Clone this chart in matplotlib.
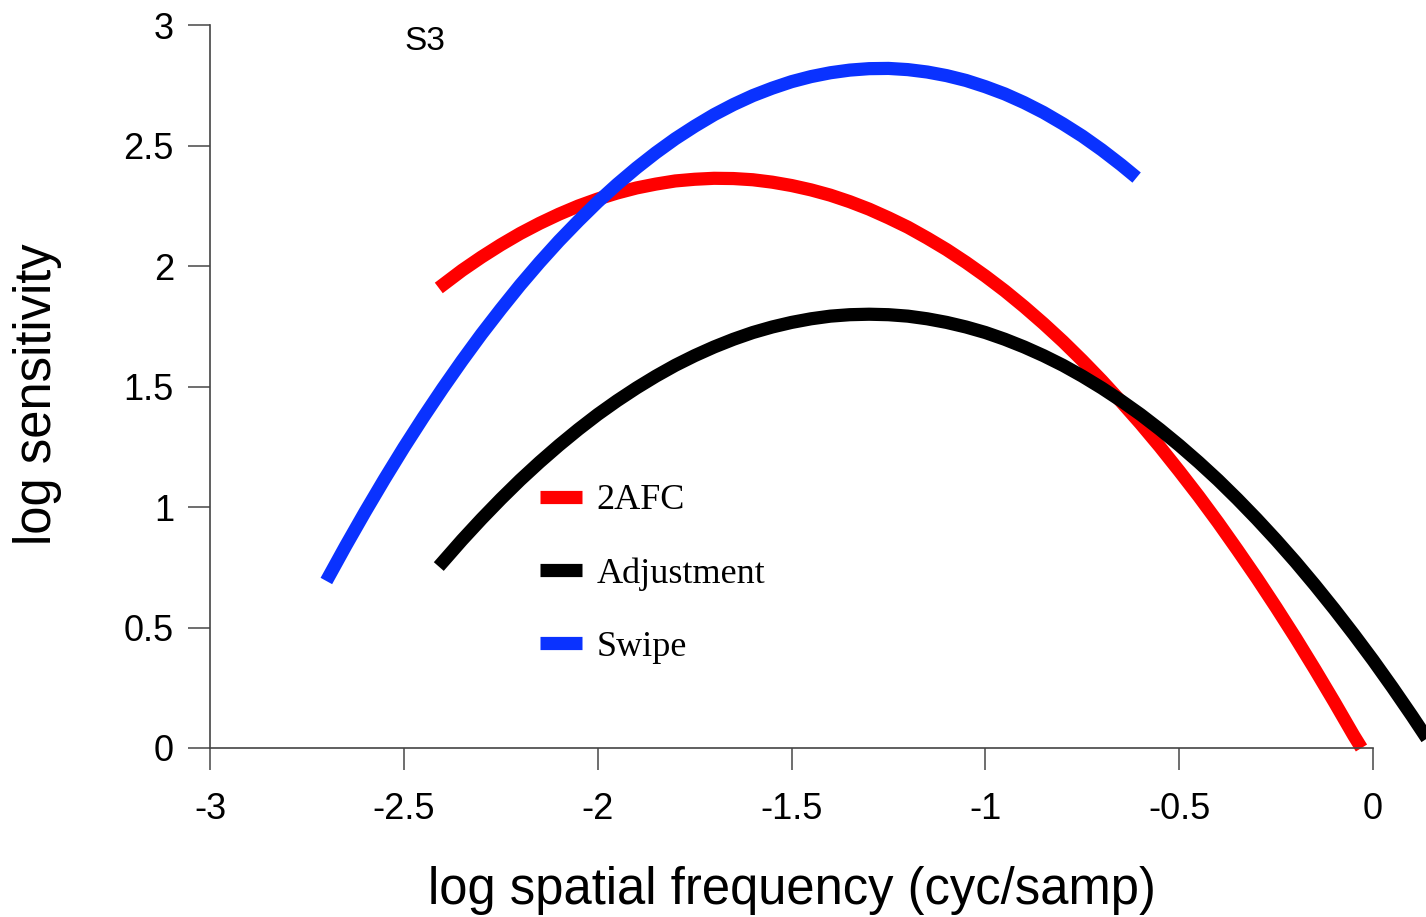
import matplotlib
matplotlib.use('Agg')
import matplotlib.pyplot as plt

# values (log10 units)
x_2afc = [-2.41, -2.35, -2.3, -2.25, -2.2, -2.15, -2.1, -2.05, -2.0, -1.95, -1.9, -1.85, -1.8,
          -1.75, -1.7, -1.65, -1.6, -1.55, -1.5, -1.45, -1.4, -1.35, -1.3, -1.25, -1.2, -1.15,
          -1.1, -1.05, -1.0, -0.95, -0.9, -0.85, -0.8, -0.75, -0.7, -0.65, -0.6, -0.55, -0.5,
          -0.45, -0.4, -0.35, -0.3, -0.25, -0.2, -0.15, -0.1, -0.05, -0.03]
y_2afc = [1.909, 1.982, 2.037, 2.088, 2.135, 2.177, 2.215, 2.249, 2.278, 2.303, 2.324, 2.340, 2.353,
          2.360, 2.364, 2.363, 2.358, 2.348, 2.334, 2.316, 2.294, 2.267, 2.236, 2.200, 2.161, 2.116,
          2.068, 2.015, 1.958, 1.897, 1.831, 1.761, 1.687, 1.608, 1.525, 1.437, 1.346, 1.250, 1.149,
          1.045, 0.936, 0.822, 0.705, 0.583, 0.457, 0.326, 0.191, 0.052, 0.0]

x_adj = [-2.41, -2.35, -2.3, -2.25, -2.2, -2.15, -2.1, -2.05, -2.0, -1.95, -1.9, -1.85, -1.8,
         -1.75, -1.7, -1.65, -1.6, -1.55, -1.5, -1.45, -1.4, -1.35, -1.3, -1.25, -1.2, -1.15,
         -1.1, -1.05, -1.0, -0.95, -0.9, -0.85, -0.8, -0.75, -0.7, -0.65, -0.6, -0.55, -0.5,
         -0.45, -0.4, -0.35, -0.3, -0.25, -0.2, -0.15, -0.1, -0.05, 0.0, 0.05, 0.1, 0.15]
y_adj = [0.753, 0.863, 0.950, 1.033, 1.112, 1.186, 1.256, 1.322, 1.384, 1.441, 1.494, 1.543, 1.588,
         1.628, 1.664, 1.696, 1.724, 1.747, 1.766, 1.781, 1.792, 1.798, 1.800, 1.798, 1.792, 1.781,
         1.766, 1.747, 1.724, 1.696, 1.664, 1.628, 1.588, 1.543, 1.494, 1.441, 1.384, 1.322, 1.256,
         1.186, 1.112, 1.033, 0.950, 0.863, 0.772, 0.676, 0.576, 0.472, 0.364, 0.251, 0.134, 0.013]

x_swipe = [-2.7, -2.65, -2.6, -2.55, -2.5, -2.45, -2.4, -2.35, -2.3, -2.25, -2.2, -2.15, -2.1,
           -2.05, -2.0, -1.95, -1.9, -1.85, -1.8, -1.75, -1.7, -1.65, -1.6, -1.55, -1.5, -1.45,
           -1.4, -1.35, -1.3, -1.25, -1.2, -1.15, -1.1, -1.05, -1.0, -0.95, -0.9, -0.85, -0.8,
           -0.75, -0.7, -0.65, -0.61]
y_swipe = [0.693, 0.839, 0.980, 1.116, 1.247, 1.372, 1.492, 1.607, 1.717, 1.821, 1.921, 2.015, 2.104,
           2.187, 2.266, 2.339, 2.407, 2.470, 2.528, 2.580, 2.628, 2.670, 2.707, 2.738, 2.765, 2.786,
           2.802, 2.813, 2.819, 2.820, 2.815, 2.805, 2.790, 2.770, 2.744, 2.714, 2.678, 2.637, 2.590,
           2.539, 2.482, 2.420, 2.367]

xticks = [-3, -2.5, -2, -1.5, -1, -0.5, 0]
xtick_labels = ['-3', '-2.5', '-2', '-1.5', '-1', '-0.5', '0']
yticks = [0, 0.5, 1, 1.5, 2, 2.5, 3]
ytick_labels = ['0', '0.5', '1', '1.5', '2', '2.5', '3']

plt.rcParams['font.family'] = ['Liberation Sans', 'DejaVu Sans']

fig = plt.figure(figsize=(14.26, 9.17), dpi=100)
ax = fig.add_axes([0.1473, 0.1843, 0.8156, 0.7884])

lw = 9.5
ax.plot(x_2afc, y_2afc, color='#ff0000', lw=lw, solid_capstyle='butt', label='2AFC', clip_on=False)
ax.plot(x_adj, y_adj, color='black', lw=lw, solid_capstyle='butt', label='Adjustment', clip_on=False)
ax.plot(x_swipe, y_swipe, color='#0a32ff', lw=lw, solid_capstyle='butt', label='Swipe', clip_on=False)

ax.set_xlim(-3, 0)
ax.set_ylim(0, 3)
ax.set_xticks(xticks)
ax.set_xticklabels(xtick_labels)
ax.set_yticks(yticks)
ax.set_yticklabels(ytick_labels)

for s in ['top', 'right']:
    ax.spines[s].set_visible(False)
for s in ['left', 'bottom']:
    ax.spines[s].set_color('#444444')
    ax.spines[s].set_linewidth(1.2)

ax.tick_params(axis='x', direction='out', length=16, width=1.2, color='#555555', pad=16, labelsize=26)
ax.tick_params(axis='y', direction='out', length=16, width=1.2, color='#555555', pad=10, labelsize=26)

ax.set_xlabel('log spatial frequency (cyc/samp)', fontsize=36.5)
ax.xaxis.set_label_coords(0.5, -0.163)
ax.set_ylabel('log sensitivity', fontsize=36.5)
ax.yaxis.set_label_coords(-0.127, 0.49)

ax.text(-2.445, 2.93, 'S3', fontsize=24, ha='center', va='center')

leg = ax.legend(loc='upper left', bbox_to_anchor=(0.2838, 0.365), frameon=False,
                prop={'family': 'Liberation Serif', 'size': 26},
                handlelength=1.17, handletextpad=0.4, labelspacing=1.1,
                borderpad=0, borderaxespad=0)

fig.savefig('out.png', dpi=100)
